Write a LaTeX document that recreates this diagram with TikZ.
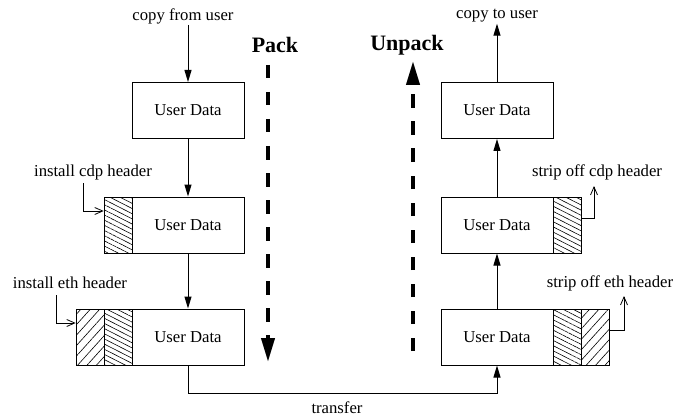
\documentclass[tikz,border=0pt]{standalone}
\usepackage{fontspec}
\setmainfont{Liberation Serif}
\usetikzlibrary{arrows.meta,patterns.meta}
\begin{document}
\begin{tikzpicture}[x=1pt,y=-1pt,
  lbl/.style={font=\fontsize{16.7}{20}\selectfont, inner sep=1pt},
  big/.style={font=\fontsize{22}{26}\selectfont\bfseries, inner sep=1pt},
  databox/.style={draw, line width=1pt, minimum width=112pt, minimum height=56pt,
    inner sep=0pt, font=\fontsize{16.7}{20}\selectfont},
  cdphdr/.style={draw, line width=1pt, minimum width=28pt, minimum height=56pt, inner sep=0pt,
    pattern={Lines[angle=-27,distance=4.6pt,line width=0.6pt]}},
  ethhdr/.style={draw, line width=1pt, minimum width=28pt, minimum height=56pt, inner sep=0pt,
    pattern={Lines[angle=48,distance=7pt,line width=0.6pt]}},
  flow/.style={line width=1pt, -{Triangle[length=12pt,width=7pt]}},
  hint/.style={line width=0.8pt, -{Straight Barb[length=8pt,width=7pt]}},
  bigflow/.style={line width=4pt, dash pattern=on 13.5pt off 13.5pt,
    -{Triangle[length=24pt,width=13pt]}}]
\useasboundingbox (0,0) rectangle (673,420);

% sending side
\node[lbl] (cfu) at (183,16) {copy from user};
\node[databox] (L1) at (188,110.5) {User Data};
\node[databox] (L2) at (188,225) {User Data};
\node[cdphdr]  (L2c) at (118,225) {};
\node[databox] (L3) at (188,337) {User Data};
\node[cdphdr]  (L3c) at (118,337) {};
\node[ethhdr]  (L3e) at (90,337) {};

\node[lbl] (icdp) at (93,172) {install cdp header};
\node[lbl] (ieth) at (70,283) {install eth header};
\coordinate (icdpfoot) at (83,183);
\coordinate (iethfoot) at (56,295);

\draw[flow] (L1.north |- cfu.south) -- (L1);
\draw[flow] (L1) -- (L2);
\draw[flow] (L2) -- (L3);
\draw[hint] (icdpfoot) |- ([yshift=14pt]L2c.west);
\draw[hint] (iethfoot) |- ([yshift=14pt]L3e.west);

% receiving side
\node[lbl] (ctu) at (497,16) {copy to user};
\node[databox] (R1) at (497,110.5) {User Data};
\node[databox] (R2) at (497,225) {User Data};
\node[cdphdr]  (R2c) at (567,225) {};
\node[databox] (R3) at (497,337) {User Data};
\node[cdphdr]  (R3c) at (567,337) {};
\node[ethhdr]  (R3e) at (595,337) {};

\node[lbl] (scdp) at (597,172) {strip off cdp header};
\node[lbl] (seth) at (610,283) {strip off eth header};
\coordinate (scdpfoot) at (594,186);
\coordinate (sethfoot) at (624,296);

\draw[flow] (R3) -- (R2);
\draw[flow] (R2) -- (R1);
\draw[flow] (R1) -- (R1.north |- ctu.south);
\draw[hint] ([yshift=7pt]R2c.east) -| (scdpfoot);
\draw[hint] ([yshift=7pt]R3e.east) -| (sethfoot);

% link between the two hosts
\node[lbl] (xfer) at (337,408) {transfer};
\draw[flow] (L3.south) -- ++(0,28) -| (R3.south);

% direction markers
\node[big] (pack) at (275,45) {Pack};
\node[big] (unpack) at (407,45) {Unpack};
\coordinate (packtop) at (268,65);
\coordinate (packend) at (268,362);
\coordinate (unpackbot) at (413,351);
\coordinate (unpackend) at (413,61);
\draw[bigflow] (packtop) -- (packend);
\draw[bigflow] (unpackbot) -- (unpackend);
\end{tikzpicture}
\end{document}
